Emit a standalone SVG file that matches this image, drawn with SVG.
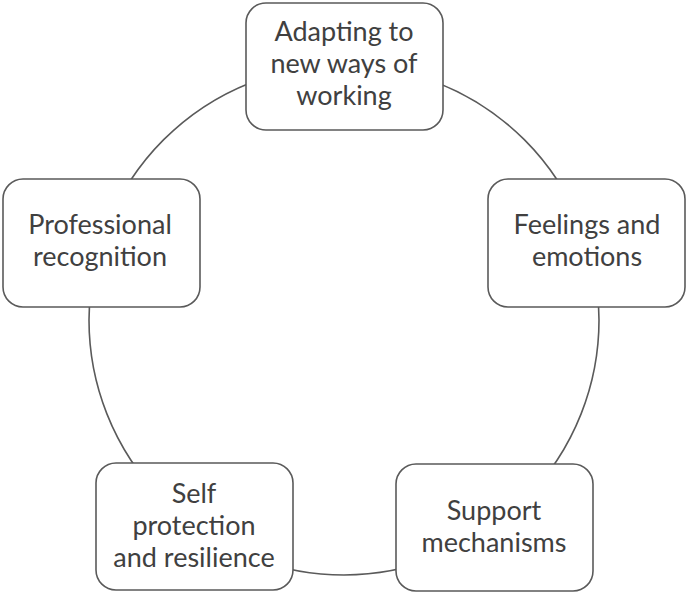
<svg xmlns="http://www.w3.org/2000/svg" width="688" height="595" viewBox="0 0 688 595">
<style>
.box{fill:#ffffff;stroke:#5a5a5a;stroke-width:1.6}
.ring{fill:none;stroke:#5a5a5a;stroke-width:1.6}
.t{font-family:Lato,"Open Sans",sans-serif;font-size:27px;fill:#404040;text-anchor:middle}
</style>
<rect width="688" height="595" fill="#ffffff"/>
<g id="connectors">
<circle class="ring" cx="344" cy="320" r="255"/>
</g>
<g id="n1">
<rect class="box" x="246" y="3" width="197" height="127" rx="20"/>
<text class="t" x="344" y="41">Adapting to</text>
<text class="t" x="344" y="73">new ways of</text>
<text class="t" x="344" y="105">working</text>
</g>
<g id="n2">
<rect class="box" x="488" y="179" width="197" height="128" rx="20"/>
<text class="t" x="587" y="234">Feelings and</text>
<text class="t" x="587" y="266">emotions</text>
</g>
<g id="n3">
<rect class="box" x="396" y="464" width="197" height="127" rx="20"/>
<text class="t" x="494" y="520">Support</text>
<text class="t" x="494" y="552">mechanisms</text>
</g>
<g id="n4">
<rect class="box" x="96" y="463" width="197" height="127" rx="20"/>
<text class="t" x="194" y="503">Self</text>
<text class="t" x="194" y="535">protection</text>
<text class="t" x="194" y="567">and resilience</text>
</g>
<g id="n5">
<rect class="box" x="3" y="179" width="197" height="128" rx="20"/>
<text class="t" x="100" y="234">Professional</text>
<text class="t" x="100" y="266">recognition</text>
</g>
</svg>
